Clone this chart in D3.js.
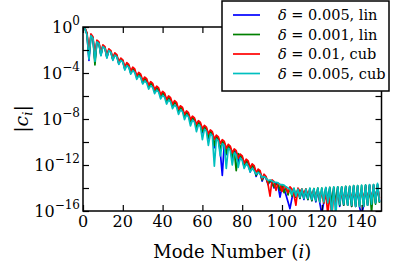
<!DOCTYPE html>
<html>
<head>
<meta charset="utf-8">
<script src="https://cdn.jsdelivr.net/npm/d3@7"></script>
<style>
body { margin: 0; background: #fff; }
</style>
</head>
<body>
<div id="chart"></div>
<script>
var width = 399, height = 268;
var margin = { top: 27, right: 17, bottom: 57, left: 83 };
var serif = "'DejaVu Serif', serif";

// mode number i = 0..149
var modes = d3.range(0, 150);

// log10 |c_i|, one value per mode
var lin005 = [0,-0.12,-0.6,-2.9,-0.7,-0.95,-2.9,-1.25,-1.4,-2.45,-1.65,-1.8,-2.65,-2.0,-2.15,-2.85,-2.35,-2.5,-3.2,-2.8,
  -2.95,-3.65,-3.25,-3.4,-4.0,-3.65,-3.8,-4.4,-4.1,-4.25,-4.85,-4.5,-4.65,-5.25,-4.9,-5.05,-5.65,-5.3,-5.45,-6.1,
  -5.75,-5.9,-6.5,-6.15,-6.3,-6.9,-6.55,-6.7,-7.35,-7.0,-7.15,-7.8,-7.45,-7.6,-8.3,-7.9,-8.05,-8.75,-8.3,-8.45,
  -9.2,-8.7,-8.85,-9.7,-9.1,-9.25,-10.5,-9.55,-9.7,-10.9,-12.9,-10.1,-11.1,-10.35,-10.5,-11.5,-10.75,-10.9,-11.8,-11.2,
  -11.35,-12.2,-11.65,-11.8,-12.6,-12.05,-12.2,-13.0,-12.5,-12.65,-13.4,-12.95,-13.15,-13.7,-13.4,-13.55,-14.0,-13.6,-13.8,-14.8,
  -13.9,-14.1,-14.6,-15.2,-15.8,-14.9,-14.1,-14.8,-14.15,-14.9,-14.15,-15.0,-14.15,-15.0,-14.1,-15.1,-14.1,-15.2,-14.05,-15.3,
  -16.3,-15.2,-14.0,-15.3,-14.0,-15.4,-14.0,-15.5,-13.95,-15.6,-13.95,-15.5,-13.9,-15.5,-13.9,-15.6,-13.85,-15.6,-13.85,-15.7,
  -16.3,-15.6,-13.8,-15.5,-13.75,-15.4,-13.75,-15.3,-13.7,-15.2];

var lin001 = [0,-0.12,-0.6,-2.6,-0.7,-0.95,-3.3,-1.25,-1.4,-2.4,-1.65,-1.8,-2.6,-2.0,-2.15,-2.8,-2.35,-2.5,-3.15,-2.8,
  -2.95,-3.6,-3.25,-3.4,-3.95,-3.65,-3.8,-4.35,-4.1,-4.25,-4.8,-4.5,-4.65,-5.2,-4.9,-5.05,-5.6,-5.3,-5.45,-6.05,
  -5.75,-5.9,-6.45,-6.15,-6.3,-6.85,-6.55,-6.7,-7.3,-7.0,-7.15,-7.75,-7.45,-7.6,-8.2,-7.9,-8.05,-8.7,-8.3,-8.45,
  -9.1,-8.7,-8.85,-9.6,-9.1,-9.25,-10.3,-9.55,-9.7,-10.7,-9.95,-10.1,-11.0,-10.35,-10.5,-11.3,-10.75,-12.5,-11.0,-11.2,
  -11.35,-12.1,-11.65,-11.8,-12.5,-12.05,-12.2,-12.9,-12.5,-12.65,-13.3,-12.95,-13.1,-13.6,-13.35,-13.5,-13.9,-13.7,-13.6,-14.2,
  -13.8,-14.4,-13.9,-14.6,-14.0,-14.7,-14.05,-14.8,-14.1,-14.9,-14.1,-14.9,-14.1,-15.0,-14.05,-15.1,-14.05,-15.1,-14.0,-15.2,
  -14.0,-15.3,-14.0,-15.3,-13.95,-15.4,-13.95,-15.4,-13.9,-15.5,-13.9,-15.5,-13.85,-15.5,-13.85,-15.6,-13.8,-15.6,-13.8,-15.6,
  -13.8,-15.6,-13.75,-15.5,-13.75,-16.2,-13.7,-15.4,-13.7,-15.3];

var cub01 = [0,-0.1,-0.5,-2.2,-0.6,-0.85,-2.6,-1.15,-1.3,-2.3,-1.55,-1.7,-2.5,-1.9,-2.05,-2.75,-2.25,-2.4,-3.05,-2.7,
  -2.85,-3.5,-3.1,-3.25,-3.85,-3.5,-3.65,-4.25,-3.95,-4.1,-4.65,-4.35,-4.5,-5.05,-4.75,-4.9,-5.45,-5.15,-5.3,-5.9,
  -5.6,-5.75,-6.3,-6.0,-6.15,-6.7,-6.4,-6.55,-7.15,-6.85,-7.0,-7.6,-7.3,-7.45,-8.05,-7.75,-7.9,-8.45,-8.15,-8.3,
  -8.85,-8.55,-8.7,-9.3,-8.95,-9.1,-9.75,-9.4,-9.55,-10.15,-9.8,-9.95,-10.55,-10.2,-10.35,-10.95,-10.6,-10.75,-11.4,-11.05,
  -11.2,-11.85,-11.5,-11.65,-12.25,-11.9,-12.05,-12.7,-12.35,-12.5,-13.2,-12.8,-13.0,-13.7,-14.7,-13.3,-13.45,-14.2,-13.6,-13.7,
  -14.3,-13.8,-14.0,-14.4,-13.9,-14.1,-14.6,-15.5,-14.0,-14.3,-14.1,-14.5,-14.1,-14.6,-14.2,-14.7,-14.2,-14.8,-14.3,-15.1,
  -14.3,-15.3,-14.4,-16.3,-14.5,-16.5,-14.5,-15.4,-14.4,-15.2,-14.3,-15.0,-14.3,-15.1,-14.2,-15.0,-14.2,-15.1,-14.1,-15.2,
  -14.1,-15.0,-14.0,-15.1,-14.0,-15.0,-13.9,-15.0,-13.9,-14.9];

var cub005 = [0,-0.15,-0.7,-2.8,-0.75,-1.0,-3.0,-1.3,-1.45,-2.5,-1.7,-1.85,-2.7,-2.05,-2.2,-2.9,-2.45,-2.6,-3.25,-2.9,
  -3.05,-3.75,-3.35,-3.5,-4.1,-3.8,-3.95,-4.55,-4.25,-4.4,-4.95,-4.7,-4.85,-5.4,-5.1,-5.25,-5.8,-5.5,-5.65,-6.25,
  -5.95,-6.1,-6.7,-6.35,-6.5,-7.1,-6.8,-6.95,-7.6,-7.2,-7.35,-8.05,-7.65,-7.8,-8.6,-8.1,-8.25,-9.1,-8.5,-8.65,
  -9.8,-8.9,-9.05,-10.3,-9.3,-9.45,-12.1,-9.75,-9.9,-11.2,-10.15,-10.3,-12.3,-10.55,-10.7,-12.0,-10.95,-11.1,-12.2,-11.4,
  -11.6,-12.3,-11.9,-12.1,-12.6,-12.3,-12.5,-12.8,-12.65,-12.8,-13.1,-13.0,-13.15,-13.35,-13.3,-13.4,-13.5,-13.5,-13.55,-13.7,
  -13.7,-13.75,-13.9,-14.0,-14.1,-14.6,-14.0,-14.7,-14.1,-14.8,-14.1,-14.9,-14.1,-14.9,-14.0,-15.0,-14.05,-15.1,-14.0,-15.2,
  -14.0,-15.2,-13.95,-15.3,-13.95,-16.4,-13.9,-16.5,-13.9,-15.4,-13.9,-15.4,-13.85,-15.5,-13.85,-15.5,-13.8,-15.6,-13.8,-15.6,
  -13.75,-15.6,-13.75,-15.5,-13.7,-15.4,-13.7,-15.3,-13.6,-15.2];

var legendDeltas = ["0.005, lin", "0.001, lin", "0.01, cub", "0.005, cub"];
var colors = ["#0000ff", "#008000", "#ff0000", "#00bfbf"];
var allSeries = [lin005, lin001, cub01, cub005];

var xTicks = [0, 20, 40, 60, 80, 100, 120, 140];
var yTicks = [1, 1e-2, 1e-4, 1e-6, 1e-8, 1e-10, 1e-12, 1e-14, 1e-16];
var yLabelExps = [0, -4, -8, -12, -16];

var svg = d3.select("#chart").append("svg")
  .attr("width", width)
  .attr("height", height);

var x = d3.scaleLinear().domain([0, 150]).range([margin.left, width - margin.right - 0.5]);
var y = d3.scaleLog().domain([1e-16, 1]).range([height - margin.bottom, margin.top]);

svg.append("clipPath").attr("id", "plot-clip")
  .append("rect")
  .attr("x", x(0)).attr("y", y(1))
  .attr("width", x(150) - x(0)).attr("height", y(1e-16) - y(1));

var line = d3.line()
  .x(function(d, i) { return x(modes[i]); })
  .y(function(d) { return y(Math.pow(10, d)); });

svg.append("g")
  .attr("clip-path", "url(#plot-clip)")
  .selectAll("path")
  .data(allSeries)
  .enter()
  .append("path")
  .attr("fill", "none")
  .attr("stroke", function(d, i) { return colors[i]; })
  .attr("stroke-width", 1.7)
  .attr("stroke-linejoin", "round")
  .attr("d", line);

// ticks inward on all four sides
var tickLen = 6;
function noLabels() { return ""; }

svg.append("g").attr("transform", "translate(0," + y(1e-16) + ")")
  .call(d3.axisBottom(x).tickValues(xTicks).tickSize(-tickLen).tickFormat(noLabels));
svg.append("g").attr("transform", "translate(0," + y(1) + ")")
  .call(d3.axisTop(x).tickValues(xTicks).tickSize(-tickLen).tickFormat(noLabels));
svg.append("g").attr("transform", "translate(" + x(0) + ",0)")
  .call(d3.axisLeft(y).tickValues(yTicks).tickSize(-tickLen).tickFormat(noLabels));
svg.append("g").attr("transform", "translate(" + x(150) + ",0)")
  .call(d3.axisRight(y).tickValues(yTicks).tickSize(-tickLen).tickFormat(noLabels));

svg.selectAll(".domain").remove();
svg.selectAll(".tick line").attr("stroke", "#000").attr("stroke-width", 1.2);

svg.append("rect")
  .attr("x", x(0)).attr("y", y(1))
  .attr("width", x(150) - x(0)).attr("height", y(1e-16) - y(1))
  .attr("fill", "none").attr("stroke", "#000").attr("stroke-width", 1.5);

// tick labels
svg.append("g").selectAll("text")
  .data(xTicks)
  .enter()
  .append("text")
  .style("font-family", serif)
  .attr("x", function(d) { return x(d); })
  .attr("y", y(1e-16) + 16)
  .attr("text-anchor", "middle")
  .attr("font-size", 16)
  .text(function(d) { return d; });

var yLab = svg.append("g").selectAll("text")
  .data(yLabelExps)
  .enter()
  .append("text")
  .style("font-family", serif)
  .attr("x", x(0) - 3)
  .attr("y", function(d) { return y(Math.pow(10, d)) + 6; })
  .attr("text-anchor", "end")
  .attr("font-size", 16);
yLab.append("tspan").text("10");
yLab.append("tspan")
  .attr("dy", -8)
  .attr("font-size", 12)
  .text(function(d) { return d === 0 ? "0" : "\u2212" + Math.abs(d); });

// axis titles
svg.append("text")
  .style("font-family", serif)
  .attr("x", (x(0) + x(150)) / 2)
  .attr("y", 258)
  .attr("text-anchor", "middle")
  .attr("font-size", 18)
  .html("Mode Number (<tspan font-style='italic'>i</tspan>)");

var yTitle = svg.append("text")
  .style("font-family", serif)
  .attr("transform", "translate(28," + ((y(1) + y(1e-16)) / 2) + ") rotate(-90)")
  .attr("text-anchor", "middle")
  .attr("font-size", 19);
yTitle.append("tspan").text("|");
yTitle.append("tspan").attr("font-style", "italic").text("c");
yTitle.append("tspan").attr("font-style", "italic").attr("font-size", 13).attr("dy", 4).text("i");
yTitle.append("tspan").attr("dy", -4).text("|");

// legend
var legend = svg.append("g").attr("transform", "translate(222,1)");
legend.append("rect")
  .attr("width", 167).attr("height", 90)
  .attr("fill", "#fff").attr("stroke", "#000").attr("stroke-width", 1.5);

var entry = legend.selectAll(".entry")
  .data(legendDeltas)
  .enter()
  .append("g")
  .attr("class", "entry")
  .attr("transform", function(d, i) { return "translate(0," + (14 + i * 19.5) + ")"; });

entry.append("line")
  .attr("x1", 11).attr("x2", 38)
  .attr("stroke", function(d, i) { return colors[i]; })
  .attr("stroke-width", 1.7);

entry.append("text")
  .style("font-family", serif)
  .attr("x", 56)
  .attr("y", 5)
  .attr("font-size", 14.5)
  .html(function(d) { return "<tspan font-style='italic'>\u03b4</tspan> = " + d; });
</script>
</body>
</html>
